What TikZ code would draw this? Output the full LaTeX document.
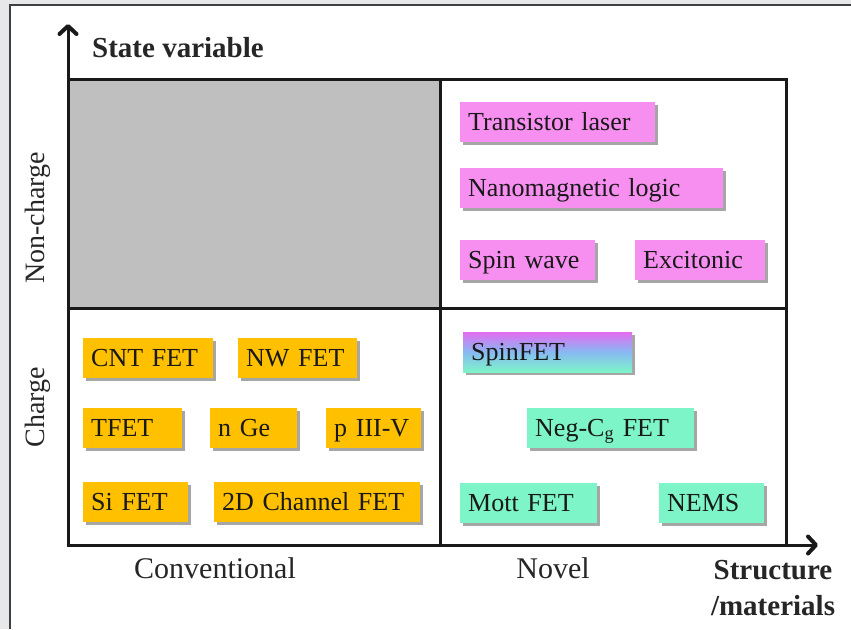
\documentclass[tikz,border=0pt]{standalone}
\usepackage{fontspec}
\setmainfont{Liberation Serif}
\usepackage{xcolor}
\usepackage{tikz}
\usetikzlibrary{arrows.meta}
\usetikzlibrary{shadows}

\definecolor{convcol}{RGB}{255,192,0}
\definecolor{novelcol}{RGB}{247,143,240}
\definecolor{aquacol}{RGB}{125,245,200}
\definecolor{spintop}{RGB}{228,108,240}
\definecolor{spinmid}{RGB}{135,185,242}
\definecolor{emptycol}{RGB}{191,191,191}
\definecolor{pagecol}{RGB}{231,232,234}

\begin{document}
\begin{tikzpicture}[
    x=1pt, y=-1pt,
    frame/.style={line width=3pt, draw=black!90},
    axis/.style={line width=3pt, draw=black!90,
        -{Straight Barb[length=8pt, width=17pt, line width=4pt 0, round]}},
    axtext/.style={text=black!85, inner sep=0pt, font=\fontsize{30}{34}\selectfont},
    boldtext/.style={axtext, font=\bfseries\fontsize{29}{36}\selectfont},
    boxbase/.style={rectangle, anchor=west, minimum height=40pt, inner xsep=8pt,
        inner ysep=0pt, align=left, text=black!90, text height=20pt, text depth=4pt,
        font=\fontsize{26}{28}\selectfont,
        drop shadow={shadow xshift=2.5pt, shadow yshift=-2.5pt, fill=black, opacity=0.35}},
    convbox/.style={boxbase, fill=convcol, text width=#1},
    novbox/.style={boxbase, fill=novelcol, text width=#1},
    chbox/.style={boxbase, fill=aquacol, text width=#1}
]
\useasboundingbox (0,0) rectangle (851,629);
\fill[pagecol] (0,0) rectangle (851,629);
\fill[white] (10,5) rectangle (851,629);
\draw[line width=1.5pt, black!75] (10,629) -- (10,5) -- (851,5);

\coordinate (origin) at (68,545);
\coordinate (ytop) at (68,24);
\coordinate (xend) at (818,545);

\fill[emptycol] (68,79) rectangle (440,308);
\draw[frame] (68,79) rectangle (786,545);
\draw[frame] (440,79) -- (440,545);
\draw[frame] (68,308) -- (786,308);
\draw[axis] ([yshift=-1.5pt]origin) -- (ytop);
\draw[axis] ([xshift=-1.5pt]origin) -- (xend);

\node[boldtext, anchor=west] (statevar) at (92,48) {State variable};
\node[axtext, rotate=90, font=\fontsize{28}{30}\selectfont] (noncharge) at (38,218) {Non-charge};
\node[axtext, rotate=90, font=\fontsize{28}{30}\selectfont] (charge) at (38,407) {Charge};
\node[axtext] (conventional) at (215,568) {Conventional};
\node[axtext] (novel) at (553,568) {Novel};
\node[boldtext, align=center] (structure) at (773,588) {Structure\\/materials};

\node[convbox=114pt] (cnt) at (83,358) {CNT FET};
\node[convbox=103pt] (nw) at (238,358) {NW FET};
\node[convbox=83pt] (tfet) at (83,428) {TFET};
\node[convbox=71pt] (nge) at (210,428) {n Ge};
\node[convbox=79pt] (piiiv) at (326,428) {p III-V};
\node[convbox=89pt] (sifet) at (83,502) {Si FET};
\node[convbox=190pt] (twod) at (214,502) {2D Channel FET};

\node[novbox=179pt] (laser) at (460,122) {Transistor laser};
\node[novbox=247pt] (nanomag) at (460,188) {Nanomagnetic logic};
\node[novbox=119pt] (spinwave) at (460,260) {Spin wave};
\node[novbox=114pt] (excitonic) at (635,260) {Excitonic};

\node[chbox=153pt, top color=spintop, bottom color=aquacol, middle color=spinmid] (spinfet) at (463,352) {SpinFET};
\node[chbox=151pt] (negcg) at (527,428) {Neg-C\textsubscript{g} FET};
\node[chbox=121pt] (mott) at (460,503) {Mott FET};
\node[chbox=89pt] (nems) at (659,503) {NEMS};
\end{tikzpicture}
\end{document}
